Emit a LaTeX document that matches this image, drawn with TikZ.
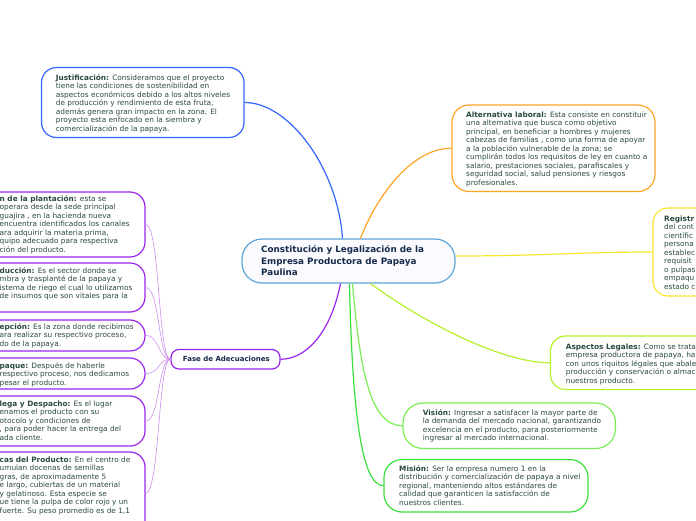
\documentclass[tikz,border=0pt]{standalone}
\usepackage{fontspec}
\newfontfamily\vfont{DejaVu Sans}
\definecolor{txtc}{HTML}{2A4A40}
\definecolor{navy}{HTML}{152B4A}
\definecolor{cblue}{HTML}{3366FF}
\definecolor{corange}{HTML}{FFA526}
\definecolor{cyellow}{HTML}{F5E62C}
\definecolor{clime}{HTML}{B4F02C}
\definecolor{clgreen}{HTML}{7AEE55}
\definecolor{cgreen}{HTML}{3CE03C}
\definecolor{cpurple}{HTML}{9A26EE}
\definecolor{cfan}{HTML}{CC8EEE}
\definecolor{cctr}{HTML}{5CA4DA}
\begin{document}
\begin{tikzpicture}[x=1pt,y=-1pt,
  bx/.style={draw, line width=1.2pt, rounded corners=15pt, fill=white, inner sep=0pt},
  txt/.style={font=\vfont\fontsize{7.35}{8.5}\selectfont, text=txtc, align=left, inner sep=0pt, anchor=north west},
  con/.style={line width=1.2pt},
  fan/.style={line width=0.6pt, draw=cfan}]
\useasboundingbox (0,0) rectangle (696,520);
% connectors drawn first (under boxes)
\coordinate (dummy) at (0,0);
% boxes
\node[bx, draw=cctr, fill=blue!2, rounded corners=20pt, minimum width=213pt, minimum height=44pt] (center) at (348.5,261) {};
\node[bx, draw=cblue, minimum width=202.5pt, minimum height=70pt] (just) at (142.75,102.5) {};
\node[bx, draw=corange, rounded corners=17pt, minimum width=203pt, minimum height=86.5pt] (alt) at (553.5,148.25) {};
\node[bx, draw=cyellow, minimum width=207pt, minimum height=88pt] (reg) at (756.5,252) {};
\node[bx, draw=clime, minimum width=203.5pt, minimum height=53.5pt] (asp) at (652.25,362.75) {};
\node[bx, draw=clgreen, rounded corners=20pt, minimum width=212.5pt, minimum height=45.5pt] (vis) at (509.25,425.75) {};
\node[bx, draw=cgreen, rounded corners=18pt, minimum width=204pt, minimum height=52.5pt] (mis) at (486,485.75) {};
\node[bx, draw=cpurple, rounded corners=8pt, minimum width=109pt, minimum height=19.5pt] (fase) at (225.5,359.25) {};
\node[bx, draw=cpurple, minimum width=205pt, minimum height=65pt] (l1) at (42.5,224.5) {};
\node[bx, draw=cpurple, minimum width=205pt, minimum height=49pt] (l2) at (42.5,287.5) {};
\node[bx, draw=cpurple, minimum width=205pt, minimum height=31pt] (l3) at (42.5,335.5) {};
\node[bx, draw=cpurple, minimum width=205pt, minimum height=31pt] (l4) at (42.5,373.5) {};
\node[bx, draw=cpurple, minimum width=205pt, minimum height=50pt] (l5) at (42.5,421) {};
\node[bx, draw=cpurple, minimum width=205pt, minimum height=83pt] (l6) at (42.5,493.5) {};
% connectors
\draw[con, cblue] ([xshift=-6pt]center.north) .. controls (338,170) and (290,102.5) .. (just.east);
\draw[con, corange] ([xshift=12pt]center.north) .. controls (375,200) and (410,148) .. (alt.west);
\draw[con, cyellow] ([yshift=5pt]center.east) .. controls (540,256) and (580,252) .. (reg.west);
\draw[con, clime] ([xshift=22pt]center.south) .. controls (420,320) and (500,362.75) .. (asp.west);
\draw[con, clgreen] ([xshift=4pt]center.south) .. controls (360,370) and (370,425.75) .. (vis.west);
\draw[con, cgreen] ([xshift=1pt]center.south) .. controls (352,400) and (360,485.75) .. (mis.west);
\draw[con, cpurple] ([xshift=-8pt]center.south) .. controls (330,335) and (305,359.25) .. (fase.east);
\foreach \n/\yy in {l1/224.5,l2/287.5,l3/335.5,l4/373.5,l5/421,l6/491}
  \draw[fan] (fase.west) .. controls (158,359.25) and (160,\yy) .. (\n.east);
% texts
\node[font=\vfont\bfseries\fontsize{8.8}{11.4}\selectfont, text=navy, align=left, inner sep=0pt, anchor=north west] (centerT) at (261,245.6)
 {Constitución y Legalización de la\\Empresa Productora de Papaya\\Paulina};
\node[font=\vfont\bfseries\fontsize{7}{8}\selectfont, text=navy, inner sep=0pt, anchor=west] (faseT) at (182.7,359.3) {Fase de Adecuaciones};
\node[txt] (justT) at (55.7,74.1) {\textbf{Justificación:} Consideramos que el proyecto\\tiene las condiciones de sostenibilidad en\\aspectos económicos debido a los altos niveles\\de producción y rendimiento de esta fruta,\\además genera gran impacto en la zona. El\\proyecto esta enfocado en la siembra y\\comercialización de la papaya.};
\node[txt] (altT) at (466,111.4) {\textbf{Alternativa laboral:} Esta consiste en constituir\\una alternativa que busca como objetivo\\principal, en beneficiar a hombres y mujeres\\cabezas de familias , como una forma  de apoyar\\a la población vulnerable de la zona; se\\cumplirán todos los requisitos de ley en cuanto a\\salario, prestaciones sociales, parafiscales y\\seguridad social, salud pensiones y riesgos\\profesionales.};
\node[txt] (regT) at (664,215.4) {\textbf{Registr}\\del cont\\científic\\persona\\establec\\requisit\\o pulpas\\empaqu\\estado c};
\node[txt] (aspT) at (565.7,343.4) {\textbf{Aspectos Legales:} Como se trata de\\empresa productora  de papaya, hay\\con unos riquitos légales que abalen\\producción y conservación o almacen\\nuestros producto.};
\node[txt] (visT) at (422.7,409) {\textbf{Visión:} Ingresar a satisfacer la mayor parte de\\la demanda del mercado nacional, garantizando\\excelencia en el producto, para posteriormente\\ingresar al mercado internacional.};
\node[txt] (misT) at (399,465) {\textbf{Misión:} Ser la empresa numero 1 en la\\distribución y comercialización de papaya a nivel\\regional, manteniendo altos estándares de\\calidad que garanticen la satisfacción de\\nuestros clientes.};
\node[txt] (l1T) at (-0.5,195.4) {\textbf{n de la plantación:} esta se\\operara desde la sede principal\\ guajira , en la hacienda nueva\\encuentra identificados los canales\\ara adquirir  la materia prima,\\quipo adecuado para respectiva\\ción del producto.};
\node[txt] (l2T) at (-0.5,267.4) {\textbf{ducción:} Es el sector donde se\\mbra y trasplanté de la papaya y\\istema de riego el cual lo utilizamos\\de insumos que son vitales para la};
\node[txt] (l3T) at (-0.5,323.4) {\textbf{epción:} Es la zona donde recibimos\\ara realizar su respectivo proceso,\\do de la papaya.};
\node[txt] (l4T) at (-0.5,362.4) {\textbf{paque:} Después de haberle\\respectivo proceso, nos dedicamos\\pesar el producto.};
\node[txt] (l5T) at (-0.5,400.4) {\textbf{lega y Despacho:} Es el lugar\\enamos el producto con su\\otocolo y condiciones de\\, para poder hacer la entrega  del\\ada cliente.};
\node[txt] (l6T) at (-0.5,456.4) {\textbf{cas del Producto:} En el centro de\\umulan docenas de semillas\\gras, de aproximadamente 5\\e largo, cubiertas de un material\\y gelatinoso. Esta especie se\\ue tiene la pulpa de color rojo y un\\fuerte. Su peso promedio es de 1,1};
\end{tikzpicture}
\end{document}
